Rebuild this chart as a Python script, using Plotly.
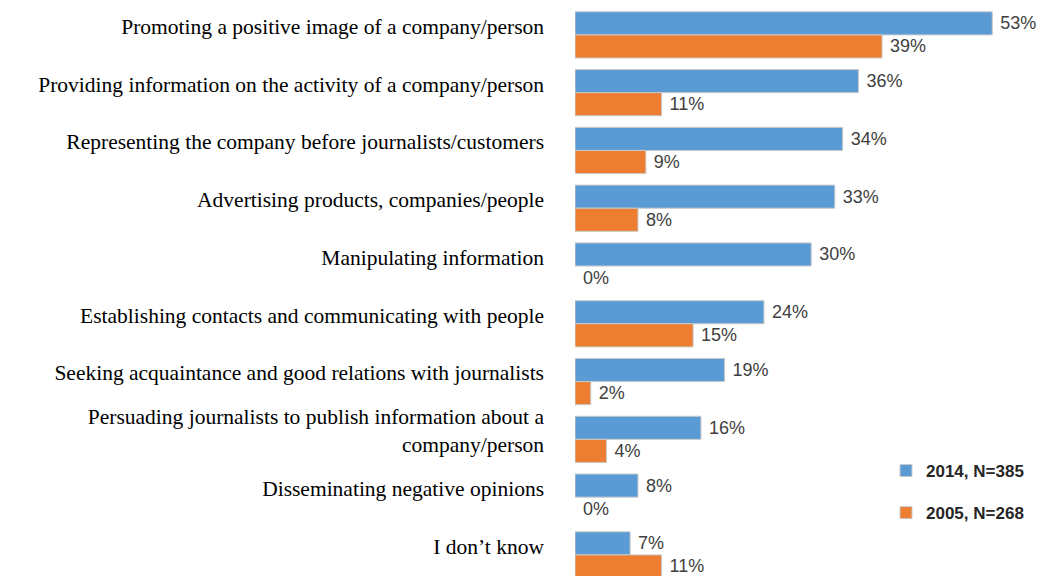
import plotly.graph_objects as go

# Survey answers, listed top to bottom
categories = [
    "Promoting a positive image of a company/person",
    "Providing information on the activity of a company/person",
    "Representing the company before journalists/customers",
    "Advertising products, companies/people",
    "Manipulating information",
    "Establishing contacts and communicating with people",
    "Seeking acquaintance and good relations with journalists",
    "Persuading journalists to publish information about a<br>company/person",
    "Disseminating negative opinions",
    "I don\u2019t know",
]
values_2014 = [53, 36, 34, 33, 30, 24, 19, 16, 8, 7]
values_2005 = [39, 11, 9, 8, 0, 15, 2, 4, 0, 11]
series_names = ["2014, N=385", "2005, N=268"]

BLUE = "#5B9BD5"
ORANGE = "#ED7D31"
SANS = "Liberation Sans, Arial, sans-serif"
SERIF = "Liberation Serif, Times New Roman, serif"

positions = list(range(len(categories)))

TOP = 6
PLOT_H = 576 - TOP
UNIT = 57.78                      # pixels per category row
Y_BOTTOM = -0.5 + PLOT_H / UNIT


def bar_trace(vals, name, color, group):
    return go.Bar(
        y=positions,
        x=vals,
        orientation="h",
        name=name,
        legendgroup=group,
        marker=dict(
            color=color,
            line=dict(color="#c9c9c9", width=[1 if v > 0 else 0 for v in vals]),
        ),
        text=["\u00a0" + f"{v}%" for v in vals],
        textposition="outside",
        textfont=dict(family=SANS, size=18, color="#404040"),
        cliponaxis=False,
        constraintext="none",
        hoverinfo="skip",
    )


fig = go.Figure()
fig.add_trace(bar_trace(values_2014, series_names[0], BLUE, "a"))
fig.add_trace(bar_trace(values_2005, series_names[1], ORANGE, "b"))

fig.update_layout(
    width=1043,
    height=576,
    margin=dict(l=575, r=35, t=TOP, b=0),
    paper_bgcolor="white",
    plot_bgcolor="white",
    barmode="group",
    bargap=0.2,
    bargroupgap=0,
    showlegend=True,
    legend=dict(
        x=(886 - 575) / 433,
        xanchor="left",
        y=1 - (453 - TOP) / PLOT_H,
        yanchor="top",
        tracegroupgap=17,
        font=dict(family=SANS, size=17, color="#262626", weight="bold"),
        bgcolor="rgba(0,0,0,0)",
    ),
    xaxis=dict(
        range=[0, 55],
        showgrid=False,
        zeroline=False,
        showline=False,
        showticklabels=False,
        fixedrange=True,
    ),
    yaxis=dict(
        range=[Y_BOTTOM, -0.5],
        showgrid=False,
        zeroline=False,
        showline=False,
        showticklabels=False,
        fixedrange=True,
    ),
    # category labels sit slightly above the centre of each bar pair
    yaxis2=dict(
        overlaying="y",
        side="left",
        range=[Y_BOTTOM + 0.15, -0.5 + 0.15],
        tickmode="array",
        tickvals=positions,
        ticktext=categories,
        showgrid=False,
        zeroline=False,
        showline=False,
        ticks="",
        ticklabelstandoff=30,
        tickfont=dict(family=SERIF, size=21.5, color="#000000"),
        fixedrange=True,
    ),
)

# anchor the label axis with an empty trace so it is laid out
fig.add_trace(go.Scatter(x=[None], y=[None], yaxis="y2", showlegend=False, hoverinfo="skip"))

fig.write_html("out.html")
